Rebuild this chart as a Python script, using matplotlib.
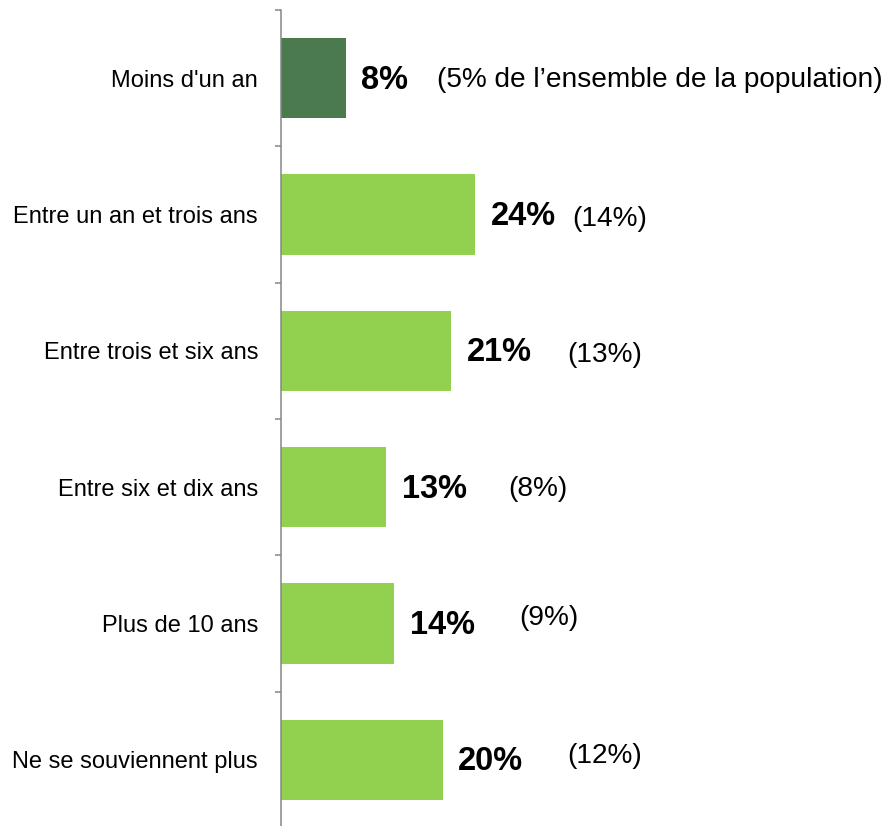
import matplotlib
matplotlib.use("Agg")
import matplotlib.pyplot as plt

plt.rcParams['font.family'] = ['Liberation Sans', 'DejaVu Sans']

categories = ["Moins d'un an", "Entre un an et trois ans", "Entre trois et six ans",
              "Entre six et dix ans", "Plus de 10 ans", "Ne se souviennent plus"]
values = [8, 24, 21, 13, 14, 20]
population = ["(5% de l\u2019ensemble de la population)", "(14%)", "(13%)", "(8%)", "(9%)", "(12%)"]

# layout of the parenthetical labels (data x, vertical nudge in points)
paren_x = [19.3, 35.9, 35.4, 28.0, 29.4, 35.4]
paren_dy = [0, -2, -2, 0, 5, 4]

colors = ["#4A7A4D"] + ["#92D050"] * 5

fig = plt.figure(figsize=(8.89, 8.26), dpi=100)
ax = fig.add_axes([281/889, -2/826, 1 - 281/889, 818/826])

ypos = list(range(len(categories)))
ax.barh(ypos, values, height=0.587, color=colors)

ax.set_xlim(0, 608/8.1)
ax.set_ylim(len(categories) - 0.5, -0.5)

for y, v, p, px, dy in zip(ypos, values, population, paren_x, paren_dy):
    ax.annotate(f"{v}%", (v, y), xytext=(11, -1.5), textcoords="offset points",
                ha="left", va="center", fontsize=23.5, fontweight="bold")
    ax.annotate(p, (px, y), xytext=(0, dy - 1), textcoords="offset points",
                ha="left", va="center", fontsize=20.2)

ax.set_yticks(ypos)
ax.set_yticklabels(categories, fontsize=17)
ax.set_yticks([i - 0.5 for i in range(len(categories) + 1)], minor=True)
ax.tick_params(axis="y", which="major", length=0, pad=16.5)
ax.tick_params(axis="y", which="minor", length=4.5, width=1.1, color="#868686", direction="out")
ax.set_xticks([])

for s in ["top", "right", "bottom"]:
    ax.spines[s].set_visible(False)
ax.spines["left"].set_color("#868686")
ax.spines["left"].set_linewidth(1.1)

fig.savefig("out.png", dpi=100)
